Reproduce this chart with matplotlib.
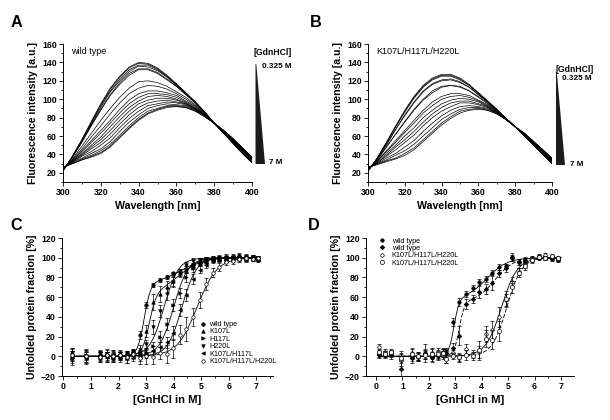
import matplotlib
matplotlib.use("Agg")
import matplotlib.pyplot as plt
from matplotlib.patches import Polygon
from matplotlib.ticker import MultipleLocator

plt.rcParams['font.family'] = ['Liberation Sans', 'DejaVu Sans']
plt.rcParams['font.weight'] = 'bold'
plt.rcParams['axes.labelweight'] = 'bold'

# ---- panel A / B : emission spectra (300-400 nm, every 5 nm) ----
wavelength = list(range(300, 401, 5))

spectra_wt = [
    [22, 38, 56, 76, 95, 112, 125, 135, 140, 139, 134, 126, 117, 107, 97, 86, 74, 63, 52, 41, 31],
    [22, 38, 56, 75, 94, 111, 124, 134, 139, 138, 133, 125, 116, 107, 97, 86, 74, 63, 52, 41, 31],
    [22, 38, 55, 74, 93, 109, 122, 132, 137, 137, 132, 125, 116, 106, 97, 86, 74, 63, 52, 41, 31],
    [22, 37, 54, 73, 91, 108, 120, 130, 136, 135, 131, 124, 115, 106, 96, 86, 74, 63, 52, 41, 31],
    [22, 37, 54, 72, 89, 105, 118, 128, 133, 133, 129, 122, 114, 105, 96, 85, 74, 63, 53, 42, 32],
    [23, 37, 53, 71, 88, 104, 116, 126, 132, 132, 128, 121, 114, 105, 96, 85, 74, 63, 53, 42, 32],
    [23, 35, 49, 63, 77, 90, 102, 112, 119, 120, 118, 114, 108, 102, 94, 84, 74, 64, 54, 43, 33],
    [24, 34, 46, 59, 71, 84, 96, 106, 112, 115, 114, 111, 106, 100, 93, 84, 74, 64, 54, 44, 34],
    [24, 34, 44, 55, 66, 77, 89, 99, 106, 109, 109, 107, 104, 98, 92, 83, 74, 65, 55, 44, 34],
    [24, 33, 43, 53, 63, 74, 85, 95, 102, 106, 106, 105, 102, 97, 91, 83, 74, 65, 55, 45, 35],
    [25, 33, 41, 50, 59, 70, 81, 91, 98, 103, 104, 103, 100, 96, 90, 83, 74, 65, 55, 45, 35],
    [25, 32, 40, 48, 56, 66, 77, 87, 95, 99, 101, 101, 99, 95, 90, 82, 74, 65, 56, 45, 35],
    [25, 32, 39, 46, 53, 62, 73, 83, 91, 96, 98, 99, 97, 95, 89, 82, 74, 65, 56, 46, 36],
    [25, 31, 38, 43, 50, 58, 69, 79, 87, 93, 95, 97, 96, 94, 89, 82, 74, 66, 56, 46, 36],
    [26, 31, 36, 41, 46, 54, 65, 75, 83, 90, 93, 95, 94, 93, 88, 82, 74, 66, 57, 46, 36],
    [26, 30, 35, 39, 44, 51, 61, 71, 80, 87, 90, 93, 93, 92, 88, 81, 74, 66, 57, 47, 37],
    [26, 30, 34, 38, 42, 49, 59, 69, 78, 85, 89, 92, 92, 91, 87, 81, 74, 66, 57, 47, 37],
    [26, 30, 34, 37, 41, 48, 58, 68, 77, 84, 88, 91, 92, 91, 87, 81, 74, 66, 57, 47, 37],
]

spectra_mut = [
    [22, 36, 53, 71, 88, 103, 115, 123, 127, 127, 123, 116, 107, 98, 89, 79, 70, 60, 50, 40, 30],
    [22, 36, 53, 70, 87, 102, 114, 122, 126, 126, 122, 115, 107, 98, 89, 79, 70, 60, 50, 40, 30],
    [22, 36, 52, 70, 86, 101, 113, 121, 125, 125, 121, 115, 106, 98, 89, 79, 70, 60, 50, 40, 30],
    [22, 35, 51, 67, 83, 97, 109, 117, 121, 122, 119, 113, 105, 97, 88, 79, 70, 60, 50, 40, 31],
    [22, 35, 50, 67, 82, 96, 108, 116, 120, 121, 118, 113, 105, 97, 88, 79, 70, 60, 50, 41, 31],
    [23, 34, 48, 62, 76, 89, 100, 109, 114, 115, 114, 109, 103, 96, 88, 79, 70, 61, 51, 41, 31],
    [23, 34, 48, 62, 75, 88, 99, 107, 113, 115, 113, 109, 102, 95, 88, 79, 70, 61, 51, 41, 32],
    [24, 33, 44, 55, 66, 77, 88, 97, 103, 106, 106, 104, 99, 94, 87, 79, 70, 61, 52, 42, 33],
    [24, 33, 43, 53, 64, 74, 85, 93, 100, 103, 104, 102, 98, 93, 87, 79, 70, 62, 52, 43, 33],
    [24, 32, 41, 50, 60, 69, 80, 88, 95, 99, 101, 100, 97, 92, 86, 78, 70, 62, 52, 43, 33],
    [25, 31, 39, 48, 56, 65, 75, 84, 91, 96, 98, 98, 95, 92, 86, 78, 70, 62, 53, 43, 34],
    [25, 31, 38, 45, 53, 61, 71, 80, 87, 92, 96, 96, 94, 91, 85, 78, 70, 62, 53, 44, 34],
    [25, 30, 36, 41, 48, 55, 65, 74, 82, 88, 92, 93, 92, 90, 85, 78, 70, 62, 53, 44, 35],
    [26, 30, 34, 39, 44, 51, 60, 69, 78, 84, 89, 91, 91, 89, 85, 78, 70, 63, 54, 45, 35],
    [26, 29, 33, 36, 41, 47, 56, 65, 74, 81, 87, 89, 90, 88, 84, 78, 70, 63, 54, 45, 36],
    [26, 29, 32, 35, 39, 45, 54, 63, 72, 79, 85, 88, 89, 88, 84, 78, 70, 63, 54, 45, 36],
]

# ---- panel C : unfolded fraction, six proteins ----
gdn_c = [0.33, 0.82, 1.33, 1.57, 1.81, 2.05, 2.29, 2.53, 2.77, 3.01, 3.25, 3.5, 3.74, 3.98,
         4.22, 4.46, 4.7, 4.94, 5.18, 5.42, 5.66, 5.9, 6.14, 6.38, 6.62, 6.86, 7.05]
c_names = ['wild type', 'K107L', 'H117L', 'H220L', 'K107L/H117L', 'K107L/H117L/H220L']
c_wt = [2, -1, 0, 1, -2, 1, 2, 4, 22, 52, 72, 77, 80, 84, 86, 89, 93, 95, 97, 99, 100, 100, 101, 102, 101, 100, 98]
c_wt_err = [6, 5, 4, 3, 4, 3, 3, 3, 4, 3, 2, 2, 2, 2, 3, 3, 2, 2, 2, 2, 2, 2, 3, 3, 2, 2, 2]
c_k107 = [-1, 1, -1, 0, 1, -1, 0, 2, 7, 26, 55, 63, 70, 76, 84, 88, 92, 96, 97, 98, 99, 100, 99, 100, 102, 100, 99]
c_k107_err = [6, 5, 5, 4, 5, 3, 4, 4, 4, 6, 8, 8, 6, 5, 4, 4, 3, 3, 3, 2, 3, 2, 3, 2, 2, 3, 2]
c_h117 = [-2, 1, 0, 2, -1, 0, -2, 1, 2, 4, 10, 20, 33, 52, 64, 80, 90, 95, 98, 99, 100, 98, 100, 101, 99, 100, 100]
c_h117_err = [7, 4, 5, 4, 5, 4, 5, 3, 4, 4, 5, 6, 6, 6, 5, 5, 4, 3, 3, 2, 3, 2, 2, 3, 2, 2, 2]
c_h220 = [3, 0, 2, -1, 0, 2, 1, 2, 4, 12, 30, 46, 63, 75, 85, 93, 97, 98, 99, 100, 99, 101, 100, 99, 100, 101, 100]
c_h220_err = [5, 6, 4, 5, 3, 4, 3, 4, 4, 5, 7, 6, 6, 5, 4, 3, 3, 2, 2, 2, 2, 3, 2, 2, 3, 2, 2]
c_kh = [0, -2, 1, -1, 2, -1, 1, 0, -1, 2, 5, 9, 14, 24, 47, 62, 78, 88, 93, 98, 99, 100, 101, 100, 99, 100, 99]
c_kh_err = [5, 6, 4, 5, 4, 5, 4, 5, 4, 4, 5, 6, 6, 7, 6, 6, 5, 4, 3, 3, 2, 2, 2, 2, 3, 2, 2]
c_khh = [1, 0, -1, 1, 0, 1, -1, 2, -2, 0, -1, 3, 2, 8, 22, 28, 40, 57, 73, 85, 91, 96, 97, 99, 100, 99, 100]
c_khh_err = [6, 7, 5, 6, 5, 4, 6, 5, 6, 8, 7, 6, 9, 10, 10, 12, 9, 8, 6, 5, 4, 3, 3, 3, 2, 2, 2]

# fitted curves of panel C (x, y pairs)
fit_c_wt_x = [0.33, 2.0, 2.33, 2.45, 2.57, 2.63, 2.69, 2.75, 2.81, 2.87, 2.93, 2.99, 3.05, 3.11, 3.17, 3.23,
              3.29, 3.41, 3.53, 3.7, 3.9, 4.1, 4.3, 4.5, 4.7, 4.9, 5.1, 5.3, 5.5, 5.9, 6.3, 7.05]
fit_c_wt_y = [0, 0.1, 0.7, 1.6, 3.8, 6.1, 9.3, 14.2, 20.8, 29.1, 38.3, 47.6, 55.9, 62.6, 67.5, 70.9,
              73.4, 76.1, 77.7, 79.4, 81.7, 84.4, 87.5, 90.5, 93.3, 95.5, 97.0, 98.1, 98.8, 99.6, 99.8, 100]
fit_c_k107_x = [0.33, 2.0, 2.47, 2.6, 2.73, 2.795, 2.86, 2.925, 2.99, 3.055, 3.12, 3.185, 3.25, 3.315, 3.38,
                3.445, 3.51, 3.64, 3.77, 4.0, 4.2, 4.4, 4.6, 4.8, 5.0, 5.2, 5.4, 5.8, 6.2, 7.05]
fit_c_k107_y = [0, 0.1, 0.9, 1.8, 3.9, 5.9, 8.8, 13.0, 18.9, 26.2, 34.3, 42.4, 49.9, 56.0, 60.5,
                63.8, 66.4, 70.0, 72.7, 77.6, 82.0, 86.4, 90.3, 93.4, 95.7, 97.3, 98.3, 99.4, 99.8, 100]
fit_c_h220_x = [0.33, 1.57, 2.35, 2.61, 2.87, 3.0, 3.13, 3.26, 3.39, 3.52, 3.65, 3.78, 3.91, 4.04, 4.17,
                4.3, 4.43, 4.69, 4.95, 5.73, 7.05]
fit_c_h117_x = [0.33, 1.92, 2.7, 2.96, 3.22, 3.35, 3.48, 3.61, 3.74, 3.87, 4.0, 4.13, 4.26, 4.39, 4.52,
                4.65, 4.78, 5.04, 5.3, 6.08, 7.05]
fit_c_kh_x = [0.33, 2.22, 3.0, 3.26, 3.52, 3.65, 3.78, 3.91, 4.04, 4.17, 4.3, 4.43, 4.56, 4.69, 4.82,
              4.95, 5.08, 5.34, 5.6, 6.38, 7.05]
fit_c_mono_y = [0, 0.03, 0.7, 1.8, 4.7, 7.6, 11.9, 18.2, 26.9, 37.8, 50, 62.2, 73.1, 81.8, 88.1,
                92.4, 95.3, 98.2, 99.3, 99.97, 100]
fit_c_khh_x = [0.33, 1.97, 3.05, 3.41, 3.77, 3.95, 4.13, 4.31, 4.49, 4.67, 4.85, 5.03, 5.21, 5.39, 5.57,
               5.75, 5.93, 6.29, 6.65, 7.05]
fit_c_khh_y = [0, 0.03, 0.7, 1.8, 4.7, 7.6, 11.9, 18.2, 26.9, 37.8, 50, 62.2, 73.1, 81.8, 88.1,
               92.4, 95.3, 98.2, 99.3, 99.9]

# ---- panel D : two repeats each ----
gdn_d = [0.1, 0.35, 0.55, 0.95, 1.35, 1.6, 1.85, 2.1, 2.35, 2.55, 2.65, 2.9, 3.15, 3.4,
         3.65, 3.9, 4.15, 4.4, 4.65, 4.9, 5.15, 5.4, 5.65, 5.9, 6.15, 6.4, 6.65, 6.9]
d_names = ['wild type', 'wild type', 'K107L/H117L/H220L', 'K107L/H117L/H220L']
d_wt1 = [1, 2, 1, -4, -1, 0, 2, -1, 1, 3, 5, 35, 55, 63, 69, 75, 78, 85, 91, 92, 101, 96, 98, 100, 101, 100, 99, 98]
d_wt1_err = [3, 3, 4, 9, 4, 4, 5, 4, 4, 4, 3, 4, 4, 3, 3, 3, 3, 3, 3, 2, 4, 3, 3, 2, 2, 2, 2, 2]
d_wt2 = [2, 1, 2, -13, -2, -1, 3, -1, 0, 4, 3, 8, 21, 53, 58, 65, 68, 74, 84, 90, 100, 96, 97, 98, 100, 101, 100, 99]
d_wt2_err = [3, 3, 3, 8, 5, 4, 9, 5, 4, 4, 4, 5, 10, 5, 4, 6, 5, 7, 4, 4, 3, 3, 3, 2, 2, 2, 2, 2]
d_mut1 = [9, 4, 3, -4, 3, -1, 2, 3, 4, 1, -3, 3, -2, 7, 2, 4, 23, 27, 40, 57, 75, 86, 93, 99, 102, 103, 101, 99]
d_mut1_err = [3, 3, 3, 6, 5, 4, 4, 5, 4, 4, 4, 3, 4, 5, 4, 6, 8, 9, 10, 6, 5, 4, 3, 2, 2, 2, 2, 2]
d_mut2 = [4, 2, 4, -2, 2, 0, 1, 2, 2, 3, -3, 0, -1, 1, 0, 6, 18, 17, 26, 58, 70, 85, 92, 98, 101, 100, 102, 100]
d_mut2_err = [3, 3, 3, 5, 5, 4, 4, 5, 4, 4, 4, 3, 4, 5, 4, 10, 9, 10, 10, 8, 6, 5, 4, 3, 2, 2, 2, 2]

fit_d_wt1_x = [0.1, 2.0, 2.45, 2.55, 2.65, 2.7, 2.75, 2.8, 2.85, 2.9, 2.95, 3.0, 3.05, 3.1, 3.15, 3.2,
               3.25, 3.35, 3.45, 3.6, 3.8, 4.0, 4.2, 4.4, 4.6, 4.8, 5.0, 5.2, 5.5, 5.9, 6.5, 7.0]
fit_d_wt1_y = [0, 0.1, 0.8, 1.6, 3.4, 5.2, 7.8, 11.6, 16.8, 23.2, 30.5, 37.8, 44.3, 49.6, 53.6, 56.4,
               58.5, 61.0, 62.7, 65.2, 68.9, 73.6, 79.0, 84.4, 89.1, 92.8, 95.4, 97.2, 98.7, 99.5, 99.9, 100]
fit_d_wt2_x = [0.1, 2.3, 2.65, 2.75, 2.85, 2.9, 2.95, 3.0, 3.05, 3.1, 3.15, 3.2, 3.25, 3.3, 3.35, 3.4,
               3.45, 3.55, 3.65, 3.8, 4.0, 4.2, 4.4, 4.6, 4.8, 5.0, 5.2, 5.4, 5.7, 6.1, 6.6, 7.0]
fit_d_wt2_y = [0, 0.1, 0.6, 1.3, 3.0, 4.7, 7.0, 10.6, 15.5, 21.6, 28.4, 35.3, 41.4, 46.4, 50.1, 52.7,
               54.5, 56.8, 58.2, 60.4, 63.7, 68.4, 74.3, 80.7, 86.6, 91.3, 94.6, 96.8, 98.6, 99.5, 99.9, 100]
fit_d_mut1_x = [0.1, 2.35, 3.25, 3.55, 3.85, 4.0, 4.15, 4.3, 4.45, 4.6, 4.75, 4.9, 5.05, 5.2, 5.35,
                5.5, 5.65, 5.95, 6.25, 7.0]
fit_d_mut2_x = [0.1, 2.71, 3.55, 3.83, 4.11, 4.25, 4.39, 4.53, 4.67, 4.81, 4.95, 5.09, 5.23, 5.37, 5.51,
                5.65, 5.79, 6.07, 6.35, 7.0]
fit_d_mut_y = [0, 0.03, 0.7, 1.8, 4.7, 7.6, 11.9, 18.2, 26.9, 37.8, 50, 62.2, 73.1, 81.8, 88.1,
               92.4, 95.3, 98.2, 99.3, 99.9]

W, H = 610, 420


def fx(px):
    return px / W


def fy(py):
    return 1 - py / H


def box(left, top, right, bottom):
    return [fx(left), fy(bottom), (right - left) / W, (bottom - top) / H]


def style(ax, xmaj, xmin, ymaj, ymin):
    for s in ('top', 'right'):
        ax.spines[s].set_visible(False)
    for s in ('left', 'bottom'):
        ax.spines[s].set_linewidth(0.7)
    ax.xaxis.set_major_locator(MultipleLocator(xmaj))
    ax.xaxis.set_minor_locator(MultipleLocator(xmin))
    ax.yaxis.set_major_locator(MultipleLocator(ymaj))
    ax.yaxis.set_minor_locator(MultipleLocator(ymin))
    ax.tick_params(which='both', direction='out', width=0.6, labelsize=6.3, pad=1.5)
    ax.tick_params(which='major', length=3)
    ax.tick_params(which='minor', length=1.6)


def gdn_wedge(text_x, text_y, conc_x, conc_y, left, top, right, bottom, end_x):
    fig.text(fx(text_x), fy(text_y), '[GdnHCl]', fontsize=6.2, va='center', ha='left')
    fig.text(fx(conc_x), fy(conc_y), '0.325 M', fontsize=5.9, va='center', ha='left')
    fig.text(fx(end_x), fy(bottom - 1), '7 M', fontsize=5.9, va='center', ha='left')
    wedge = Polygon([(fx(left), fy(top)), (fx(left + 0.8), fy(top)),
                     (fx(right), fy(bottom)), (fx(left), fy(bottom))],
                    closed=True, transform=fig.transFigure, facecolor='#1c1c1c',
                    edgecolor='none')
    fig.patches.append(wedge)


fig = plt.figure(figsize=(W / 100, H / 100), dpi=100)

# ---------------- A and B ----------------
for pos, spectra, note in [(box(63, 44, 252, 182), spectra_wt, 'wild type'),
                           (box(368, 44, 552, 182), spectra_mut, 'K107L/H117L/H220L')]:
    ax = fig.add_axes(pos)
    for row in spectra:
        ax.plot(wavelength, row, color='k', lw=0.5)
    ax.set_xlim(300, 400)
    ax.set_ylim(10, 160)
    style(ax, 20, 10, 20, 10)
    ax.set_xlabel('Wavelength [nm]', fontsize=7.7, labelpad=3)
    ax.set_ylabel('Fluorescence intensity [a.u.]', fontsize=7.6, labelpad=3)
    ax.text(304.5, 152, note, fontsize=6.5, fontweight='normal', va='center')

gdn_wedge(254, 52.7, 261.7, 66.7, 255.5, 64, 265, 164, 269)
gdn_wedge(555.7, 70, 562, 79, 556, 72, 565, 165, 570)

# ---------------- C ----------------
axc = fig.add_axes(box(62, 238, 273, 376))
fits_c = [(fit_c_wt_x, fit_c_wt_y), (fit_c_k107_x, fit_c_k107_y), (fit_c_h220_x, fit_c_mono_y),
          (fit_c_h117_x, fit_c_mono_y), (fit_c_kh_x, fit_c_mono_y), (fit_c_khh_x, fit_c_khh_y)]
for fxs, fys in fits_c:
    axc.plot(fxs, fys, color='k', lw=0.6)
series_c = [(c_wt, c_wt_err, 'o', 'k'), (c_k107, c_k107_err, '^', 'k'),
            (c_h117, c_h117_err, '>', 'k'), (c_h220, c_h220_err, 'v', 'k'),
            (c_kh, c_kh_err, '<', 'k'), (c_khh, c_khh_err, 'o', 'white')]
handles = []
for (vals, err, m, fc), name in zip(series_c, c_names):
    axc.errorbar(gdn_c, vals, yerr=err, fmt='none', ecolor='k', elinewidth=0.5,
                 capsize=1.2, capthick=0.5)
    h, = axc.plot(gdn_c, vals, ls='none', marker=m, ms=2.5, mfc=fc, mec='k', mew=0.5,
                  label=name)
    handles.append(h)
axc.set_xlim(-0.05, 7.6)
axc.set_ylim(-20, 120)
style(axc, 1, 0.5, 20, 10)
axc.set_xlabel('[GnHCl in M]', fontsize=8.1, labelpad=3)
axc.set_ylabel('Unfolded protein fraction [%]', fontsize=7.6, labelpad=3)
fig.legend(handles=handles, loc='upper left', bbox_to_anchor=(fx(199), fy(321)),
           frameon=False, prop={'size': 5.2, 'weight': 'normal'}, handlelength=1.0,
           handletextpad=0.4, labelspacing=0.05, borderpad=0, borderaxespad=0)

# ---------------- D ----------------
axd = fig.add_axes(box(366, 238, 574, 376))
axd.plot(fit_d_wt1_x, fit_d_wt1_y, color='k', lw=0.6)
axd.plot(fit_d_wt2_x, fit_d_wt2_y, color='k', lw=0.6, ls=(0, (5, 2)))
axd.plot(fit_d_mut1_x, fit_d_mut_y, color='k', lw=0.6)
axd.plot(fit_d_mut2_x, fit_d_mut_y, color='k', lw=0.6, ls=(0, (5, 2)))
series_d = [(d_wt1, d_wt1_err, 'o', 'k', 2.5), (d_wt2, d_wt2_err, 'D', 'k', 2.3),
            (d_mut1, d_mut1_err, 'o', 'white', 2.5), (d_mut2, d_mut2_err, 'o', 'white', 2.9)]
handles = []
for (vals, err, m, fc, ms), name in zip(series_d, d_names):
    axd.errorbar(gdn_d, vals, yerr=err, fmt='none', ecolor='k', elinewidth=0.5,
                 capsize=1.2, capthick=0.5)
    h, = axd.plot(gdn_d, vals, ls='none', marker=m, ms=ms, mfc=fc, mec='k', mew=0.5,
                  label=name)
    handles.append(h)
axd.set_xlim(-0.38, 7.49)
axd.set_ylim(-20, 120)
style(axd, 1, 0.5, 20, 10)
axd.set_xlabel('[GnHCl in M]', fontsize=8.1, labelpad=3)
axd.set_ylabel('Unfolded protein fraction [%]', fontsize=7.6, labelpad=3)
fig.legend(handles=handles, loc='upper left', bbox_to_anchor=(fx(378), fy(237.5)),
           frameon=False, prop={'size': 5.2, 'weight': 'normal'}, handlelength=1.0,
           handletextpad=0.9, labelspacing=0.05, borderpad=0, borderaxespad=0)

# panel letters
for letter, (px, py) in zip('ABCD', [(16.5, 22.5), (316, 22.5), (16, 226), (313.5, 226)]):
    fig.text(fx(px), fy(py), letter, fontsize=11.7, ha='center', va='center')

fig.savefig('out.png', dpi=100)
